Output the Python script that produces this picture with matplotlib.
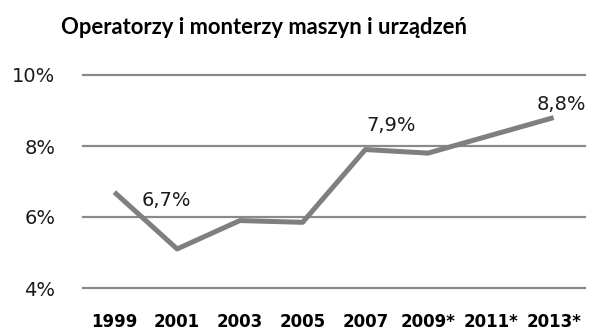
import matplotlib.pyplot as plt

years = ["1999", "2001", "2003", "2005", "2007", "2009*", "2011*", "2013*"]
share = [6.7, 5.1, 5.9, 5.85, 7.9, 7.8, 8.3, 8.8]

# which points get a value label, and where the text sits (pixel offset)
labelled = {0: (52, -8), 4: (26, 24), 7: (8, 13)}

yticks = [4, 6, 8, 10]

fig = plt.figure(figsize=(5.9, 3.31), dpi=100)
ax = fig.add_axes([83 / 590, 43 / 331, 502 / 590, 213 / 331])

x = list(range(len(years)))
ax.plot(x, share, color="#7f7f7f", lw=3.6, solid_capstyle="butt", zorder=3)

for i, (dx, dy) in labelled.items():
    txt = f"{share[i]:.1f}%".replace(".", ",")
    ax.annotate(txt, (x[i], share[i]), xytext=(dx * 0.72, dy * 0.72),
                textcoords="offset points", ha="center", va="center",
                fontsize=14, color="#1a1a1a", family="DejaVu Sans")

ax.set_xlim(-0.5, len(years) - 0.5)
ax.set_ylim(4, 10)
ax.set_yticks(yticks)
ax.set_yticklabels([f"{v}%" for v in yticks], fontsize=14, color="#1a1a1a")
ax.set_xticks(x)
ax.set_xticklabels(years, fontsize=12, fontweight="bold", family="Liberation Sans Narrow")
ax.grid(axis="y", color="#8a8a8a", lw=1.6, clip_on=False)
ax.set_axisbelow(True)
for s in ax.spines.values():
    s.set_visible(False)
ax.tick_params(length=0)
ax.tick_params(axis="y", pad=20)
ax.tick_params(axis="x", pad=18)

fig.text(0.447, 1 - 28 / 331, "Operatorzy i monterzy maszyn i urządzeń", ha="center",
         va="center", fontsize=15.8, fontweight="bold", family="Lato")

fig.savefig("out.png", dpi=100)
